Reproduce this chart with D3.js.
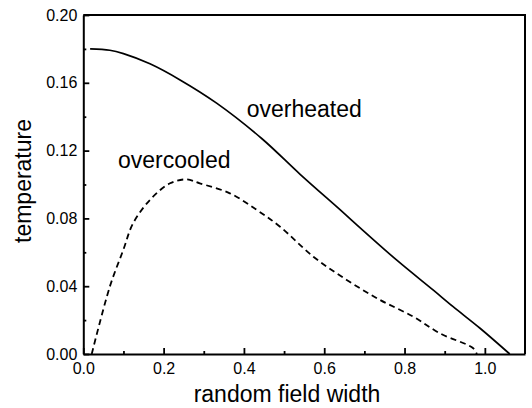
<!DOCTYPE html>
<html>
<head>
<meta charset="utf-8">
<script src="https://cdn.jsdelivr.net/npm/d3@7"></script>
<style>
    body { margin: 0; background: #fff; }
    svg { display: block; font-family: "Liberation Sans", Arial, sans-serif; }
    .tick text { font-size: 16px; fill: #000; }
</style>
</head>
<body>
<div id="chart"><svg></svg></div>
<script>
// curve: [random field width, temperature]
const overheated = [
    [0.017, 0.180], [0.066, 0.1792], [0.10, 0.1772], [0.166, 0.1712], [0.241, 0.1617],
    [0.332, 0.148], [0.445, 0.127], [0.54, 0.106], [0.64, 0.085], [0.668, 0.079],
    [0.78, 0.0555], [0.871, 0.0378], [0.921, 0.0279], [0.988, 0.0152], [1.062, 0.0]
];
const overcooled = [
    [0.021, 0.0], [0.066, 0.0397], [0.0996, 0.0614], [0.124, 0.0771], [0.166, 0.0909],
    [0.216, 0.1007], [0.257, 0.103], [0.29, 0.1007], [0.365, 0.0948], [0.432, 0.085],
    [0.49, 0.0751], [0.573, 0.0574], [0.656, 0.0437], [0.739, 0.0319], [0.822, 0.022],
    [0.888, 0.0122], [0.971, 0.0034], [0.98, 0.0]
];
const xTicks = [0, 0.2, 0.4, 0.6, 0.8, 1.0];
const xMinorTicks = [0.1, 0.3, 0.5, 0.7, 0.9];
const yTicks = [0, 0.04, 0.08, 0.12, 0.16, 0.20];
const yMinorTicks = [0.02, 0.06, 0.10, 0.14, 0.18];
const curveLabels = [
    {text: "overheated", x: 0.407, y: 0.140},
    {text: "overcooled", x: 0.0865, y: 0.110}
];

const WIDTH = 532, HEIGHT = 408;
const MARGINS = {top: 15, right: 7, bottom: 54, left: 83.3};
const CHART_WIDTH = WIDTH - MARGINS.left - MARGINS.right;
const CHART_HEIGHT = HEIGHT - MARGINS.top - MARGINS.bottom;

const x = d3.scaleLinear().domain([0, 1.1]).range([0, CHART_WIDTH]);
const y = d3.scaleLinear().domain([0, 0.2]).range([CHART_HEIGHT, 0]);

const svg = d3.select('svg')
    .attr('width', WIDTH)
    .attr('height', HEIGHT);

const chart = svg.append('g')
    .attr('transform', `translate(${MARGINS.left},${MARGINS.top})`);

// frame (top and right sides)
chart.append('path')
    .attr('d', `M0,0H${CHART_WIDTH}V${CHART_HEIGHT}`)
    .attr('fill', 'none')
    .attr('stroke', '#000')
    .attr('stroke-width', 2);

// minor ticks
chart.append('g')
    .attr('transform', `translate(0,${CHART_HEIGHT})`)
    .call(d3.axisBottom(x).tickValues(xMinorTicks).tickSize(-3).tickFormat(''))
    .call(g => g.select('.domain').remove())
    .selectAll('line').attr('stroke-width', 1.8);

chart.append('g')
    .call(d3.axisLeft(y).tickValues(yMinorTicks).tickSize(-3).tickFormat(''))
    .call(g => g.select('.domain').remove())
    .selectAll('line').attr('stroke-width', 1.8);

// major axes
const xAxis = chart.append('g')
    .attr('transform', `translate(0,${CHART_HEIGHT})`)
    .call(d3.axisBottom(x).tickValues(xTicks).tickFormat(d3.format('.1f'))
        .tickSizeInner(-6).tickSizeOuter(0).tickPadding(9));

const yAxis = chart.append('g')
    .call(d3.axisLeft(y).tickValues(yTicks).tickFormat(d3.format('.2f'))
        .tickSizeInner(-6).tickSizeOuter(0).tickPadding(6));

[xAxis, yAxis].forEach(a => {
    a.attr('font-family', null).attr('font-size', null);
    a.select('.domain').attr('stroke-width', 2);
    a.selectAll('.tick line').attr('stroke-width', 1.8);
});

// curves
const line = d3.line()
    .x(d => x(d[0]))
    .y(d => y(d[1]))
    .curve(d3.curveCatmullRom.alpha(0.5));

chart.append('path')
    .datum(overheated)
    .attr('d', line)
    .attr('fill', 'none')
    .attr('stroke', '#000')
    .attr('stroke-width', 1.7);

chart.append('path')
    .datum(overcooled)
    .attr('d', line)
    .attr('fill', 'none')
    .attr('stroke', '#000')
    .attr('stroke-width', 1.8)
    .attr('stroke-dasharray', '6,4');

// curve labels
chart.selectAll('.curve-label')
    .data(curveLabels)
    .enter()
    .append('text')
    .classed('curve-label', true)
    .attr('x', d => x(d.x))
    .attr('y', d => y(d.y))
    .attr('font-size', 23)
    .text(d => d.text);

// axis titles
svg.append('text')
    .attr('x', 287)
    .attr('y', 402)
    .attr('text-anchor', 'middle')
    .attr('font-size', 23)
    .text('random field width');

svg.append('text')
    .attr('transform', 'translate(31,181) rotate(-90)')
    .attr('text-anchor', 'middle')
    .attr('font-size', 23)
    .text('temperature');
</script>
</body>
</html>
